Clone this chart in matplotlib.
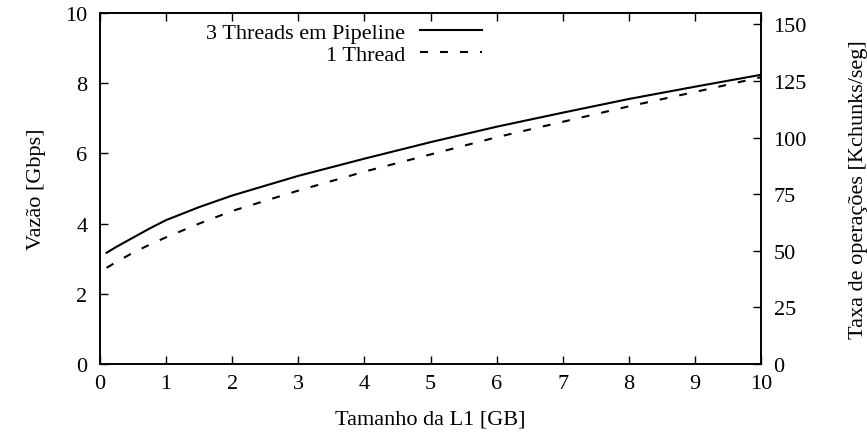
import matplotlib
matplotlib.use("Agg")
import matplotlib.pyplot as plt

plt.rcParams['font.family'] = ['Liberation Serif', 'DejaVu Serif']

# Data
x_gb = [0.1, 0.25, 0.5, 0.75, 1, 1.5, 2, 3, 4, 5, 6, 7, 8, 9, 10]
vazao_pipeline = [3.17, 3.34, 3.60, 3.86, 4.10, 4.47, 4.80, 5.36, 5.85, 6.32, 6.76, 7.16, 7.55, 7.90, 8.24]
vazao_1thread = [2.74, 2.91, 3.17, 3.40, 3.61, 4.00, 4.36, 4.94, 5.48, 5.97, 6.46, 6.90, 7.34, 7.75, 8.17]

label_pipeline = "3 Threads em Pipeline"
label_1thread = "1 Thread"

x_ticks = list(range(0, 11))
y_ticks = [0, 2, 4, 6, 8, 10]
y2_ticks = [0, 25, 50, 75, 100, 125, 150]

fs = 16

fig = plt.figure(figsize=(8.67, 4.39), dpi=100)
ax = fig.add_axes([100/867, (439-365)/439, (761-100)/867, (365-14)/439])

ax.plot(x_gb, vazao_pipeline, color='black', lw=1.5, label=label_pipeline)
l2, = ax.plot(x_gb, vazao_1thread, color='black', lw=1.5, label=label_1thread)
l2.set_dashes((3.8, 5.8))

ax.set_xlim(0, 10)
ax.set_ylim(0, 10)
ax.set_xticks(x_ticks)
ax.set_yticks(y_ticks)
ax.tick_params(axis='x', direction='in', top=True, bottom=True, length=6, width=1,
               labelsize=fs, pad=7)
ax.tick_params(axis='y', direction='in', left=True, right=False, length=6, width=1,
               labelsize=fs, pad=9)
for s in ax.spines.values():
    s.set_linewidth(1.2)

ax.set_xlabel("Tamanho da L1 [GB]", fontsize=fs, labelpad=12)
ax.set_ylabel("Vazão [Gbps]", fontsize=fs, labelpad=14)

ax2 = ax.twinx()
ax2.set_ylim(0, 155)
ax2.set_yticks(y2_ticks)
ax2.tick_params(axis='y', direction='in', length=6, width=1, labelsize=fs, pad=9)
ax2.set_ylabel("Taxa de operações [Kchunks/seg]", fontsize=fs, labelpad=30)
for s in ax2.spines.values():
    s.set_linewidth(1.2)

leg = ax.legend(loc='upper right', bbox_to_anchor=(0.595, 1.005), frameon=False,
                markerfirst=False, fontsize=fs, handlelength=2.8,
                handletextpad=0.68, labelspacing=0.05, borderaxespad=0.1)
for t in leg.get_texts():
    t.set_ha('right')

fig.savefig("out.png", dpi=100)
